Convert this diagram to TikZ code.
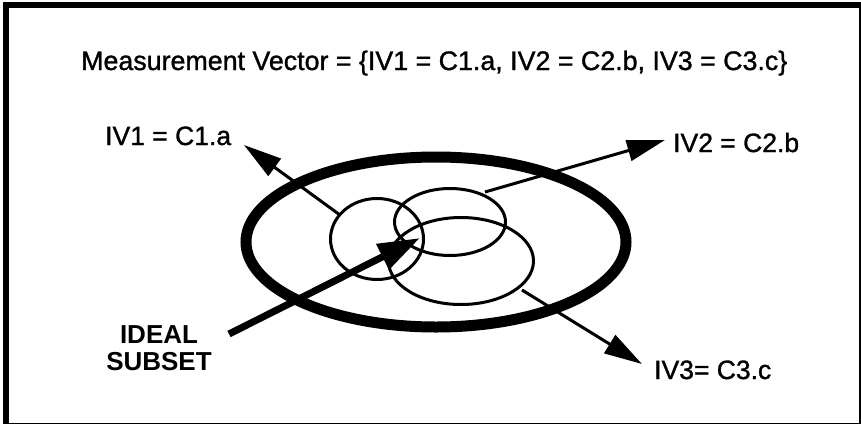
\documentclass[tikz,border=0pt]{standalone}
\usepackage{fontspec}
\setmainfont{Liberation Sans}
\newfontfamily\heavyfont[FakeBold=1.2]{Liberation Sans}
\usetikzlibrary{arrows.meta}
\tikzset{
  lbl/.style={font=\heavyfont\fontsize{26.5}{30}\selectfont, inner sep=0pt},
  tlbl/.style={font=\heavyfont\fontsize{26.8}{30}\selectfont, inner sep=0pt},
  blbl/.style={font=\fontsize{26}{30}\selectfont\bfseries, inner sep=0pt},
  ring/.style={line width=3pt},
  thinarrow/.style={line width=3pt, -{Triangle[length=38pt,width=21pt]}},
  thickarrow/.style={line width=7pt, -{Triangle[length=42pt,width=27pt]}},
}
\begin{document}
\begin{tikzpicture}[x=1pt,y=-1pt]
\useasboundingbox (0,0) rectangle (861,426);
% frame
\draw[line width=6pt] (5.5,424) -- (5.5,5) -- (861,5);
\draw[line width=1.5pt] (5.5,423.5) -- (859.8,423.5) -- (859.8,5);
% title
\node[tlbl, anchor=base west] (title) at (81,70) {Measurement Vector = \{IV1 = C1.a, IV2 = C2.b, IV3 = C3.c\}};
% big ellipse
\draw[line width=11pt] (436,242) ellipse [x radius=190, y radius=85];
% subsets
\draw[ring] (377,239) ellipse [x radius=46.5, y radius=40.5];
\draw[ring] (450,222) ellipse [x radius=55.5, y radius=33.5];
\draw[ring] (461,261) ellipse [x radius=72.5, y radius=43.5];
% arrow endpoints
\coordinate (s1) at (340,215);
\coordinate (t1) at (244,145);
\coordinate (s2) at (485,192);
\coordinate (t2) at (665,140);
\coordinate (s3) at (522,290);
\coordinate (t3) at (642,364);
\coordinate (si) at (229,334);
\coordinate (ti) at (420,238);
\draw[thinarrow] (s1) -- (t1);
\draw[thinarrow] (s2) -- (t2);
\draw[thinarrow] (s3) -- (t3);
\draw[thickarrow] (si) -- (ti);
% labels
\node[lbl, anchor=base west] (iv1) at (105,145) {IV1 = C1.a};
\node[lbl, anchor=base west] (iv2) at (673,152) {IV2 = C2.b};
\node[lbl, anchor=base west] (iv3) at (654,379) {IV3= C3.c};
\node[blbl, anchor=base] (ideal) at (159,343) {IDEAL};
\node[blbl, anchor=base] (subset) at (159,370) {SUBSET};
\end{tikzpicture}
\end{document}
